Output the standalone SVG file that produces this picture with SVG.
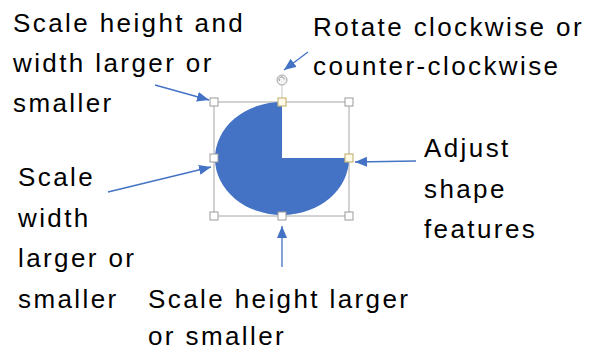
<svg xmlns="http://www.w3.org/2000/svg" width="589" height="350" viewBox="0 0 589 350">
<style>
.t{font-family:"Liberation Sans",Arial,sans-serif;font-size:26px;fill:#000;letter-spacing:2.4px}
.c{stroke:#4472C4;stroke-width:1.3;fill:none;marker-end:url(#ah)}
.h{fill:#fff;stroke:#9a9a9a;stroke-width:1}
.y{fill:#fffbe8;stroke:#c9b77a;stroke-width:1.2}
</style>
<defs>
<marker id="ah" markerUnits="userSpaceOnUse" markerWidth="14" markerHeight="12" refX="12" refY="5" orient="auto">
<path d="M0,0 L12,5 L0,10 Z" fill="#4472C4"/>
</marker>
</defs>
<rect width="589" height="350" fill="#fff"/>
<g id="shape">
<rect x="214" y="102" width="135" height="114" fill="none" stroke="#a6a6a6" stroke-width="1"/>
<path d="M282,158 L282,102 A67,56.5 0 1 0 349,158 Z" fill="#4472C4"/>
<line x1="282" y1="85" x2="282" y2="98" stroke="#c8c8c8" stroke-width="1"/>
<circle cx="282" cy="80" r="5" fill="#f2f2f2" stroke="#a6a6a6" stroke-width="1"/>
<path d="M279.5,81 A2.6,2.6 0 1 1 284.2,79.5" fill="none" stroke="#8a8a8a" stroke-width="0.9"/>
<rect class="h" x="210" y="98" width="8" height="8"/>
<rect class="h" x="345" y="98" width="8" height="8"/>
<rect class="h" x="210" y="212" width="8" height="8"/>
<rect class="h" x="345" y="212" width="8" height="8"/>
<rect class="h" x="210" y="154" width="8" height="8"/>
<rect class="h" x="278" y="212" width="8" height="8"/>
<rect class="y" x="278" y="98" width="8" height="8"/>
<rect class="y" x="345" y="154" width="8" height="8"/>
</g>
<g id="connectors">
<line class="c" x1="155" y1="85" x2="209" y2="100"/>
<line class="c" x1="308" y1="52" x2="284" y2="70"/>
<line class="c" x1="108" y1="192" x2="211" y2="167"/>
<line class="c" x1="282" y1="267" x2="282" y2="226"/>
<line class="c" x1="416" y1="161" x2="355" y2="162"/>
</g>
<g id="label-scale-hw">
<text class="t" x="13" y="32">Scale height and</text>
<text class="t" x="13" y="72">width larger or</text>
<text class="t" x="13" y="112">smaller</text>
</g>
<g id="label-rotate">
<text class="t" x="313" y="36">Rotate clockwise or</text>
<text class="t" x="313" y="75">counter-clockwise</text>
</g>
<g id="label-scale-w">
<text class="t" x="18" y="186">Scale</text>
<text class="t" x="18" y="227">width</text>
<text class="t" x="18" y="267">larger or</text>
<text class="t" x="18" y="308">smaller</text>
</g>
<g id="label-scale-h">
<text class="t" x="148" y="308">Scale height larger</text>
<text class="t" x="148" y="345">or smaller</text>
</g>
<g id="label-adjust">
<text class="t" x="424" y="157">Adjust</text>
<text class="t" x="424" y="198">shape</text>
<text class="t" x="424" y="238">features</text>
</g>
</svg>
